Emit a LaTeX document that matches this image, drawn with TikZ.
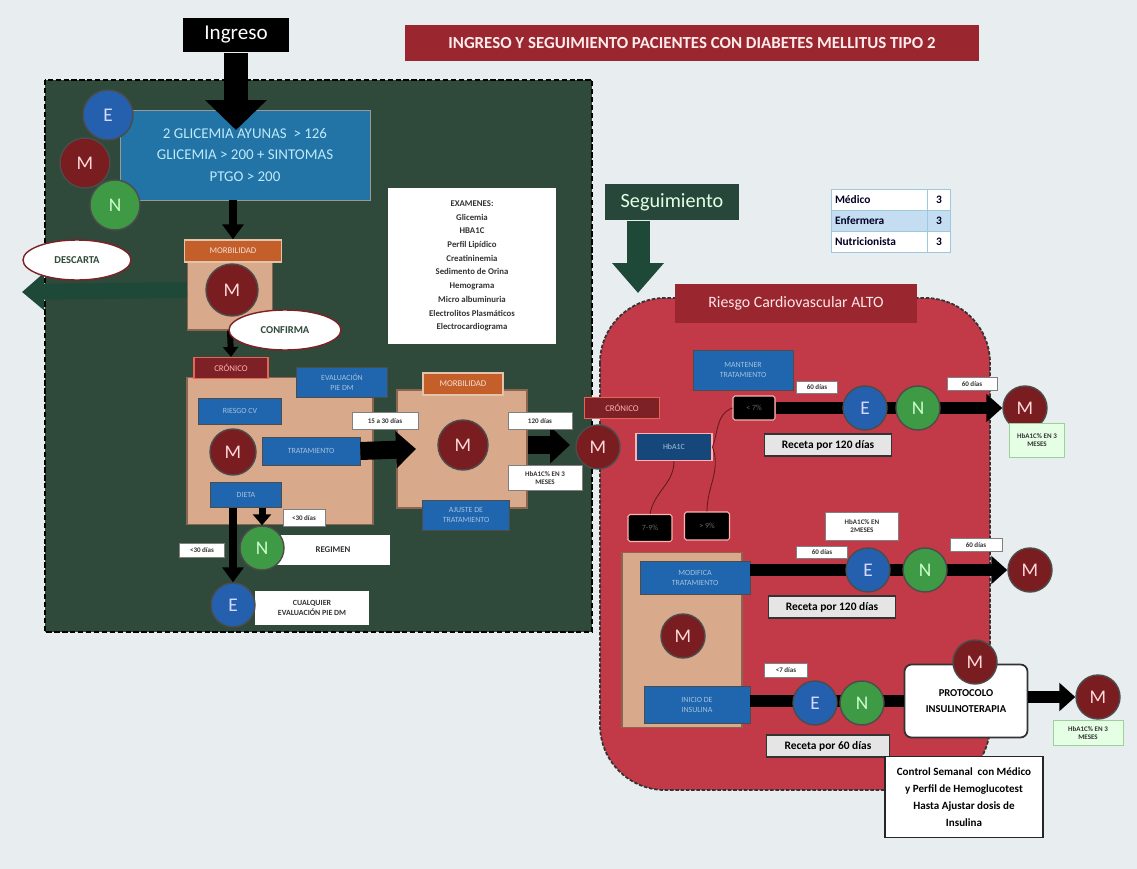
\documentclass[tikz,border=0pt]{standalone}
\usepackage{fontspec}
\setmainfont{Carlito}
\usetikzlibrary{arrows.meta,shapes.geometric}
\definecolor{paper}{HTML}{E8EDF0}
\definecolor{zone}{HTML}{2F4A3A}
\definecolor{titlered}{HTML}{9A2630}
\definecolor{riskred}{HTML}{C23A48}
\definecolor{glicblue}{HTML}{2274A6}
\definecolor{boxblue}{HTML}{1F66AE}
\definecolor{nurse}{HTML}{2460AE}
\definecolor{doctor}{HTML}{7A1D20}
\definecolor{nutri}{HTML}{3F9A45}
\definecolor{tan}{HTML}{D8A98A}
\definecolor{tanedge}{HTML}{8A6650}
\definecolor{morbo}{HTML}{C45F2A}
\definecolor{cronred}{HTML}{7E2126}
\definecolor{segreen}{HTML}{26473A}
\definecolor{darkarrow}{HTML}{1E4838}
\definecolor{legline}{HTML}{9CC8E0}
\definecolor{legblue}{HTML}{C4DDF0}
\definecolor{labgreen}{HTML}{9CD09C}
\tikzset{
  person/.style={circle, draw=black!70, thick, minimum size=0.88cm, inner sep=0pt, text=white!85!red, font=\fontsize{11}{11}\selectfont},
  nursec/.style={person, fill=nurse, text=white!85!blue},
  doctorc/.style={person, fill=doctor},
  nutric/.style={person, fill=nutri, text=white!80!green},
  bluebox/.style={rectangle, fill=boxblue, draw=black!70, text=white!60!boxblue, font=\fontsize{4.5}{5.5}\selectfont, align=center, inner sep=1pt},
  tanbox/.style={rectangle, fill=tan, draw=tanedge, line width=0.6pt},
  morblabel/.style={rectangle, fill=morbo, draw=tan!70!white, line width=0.8pt, text=white!80!morbo, font=\fontsize{5}{5}\selectfont, minimum width=1.8cm, minimum height=0.44cm},
  cronlabel/.style={rectangle, fill=cronred, draw=tan!60!red, line width=0.6pt, text=white!70!red, font=\fontsize{5}{5}\selectfont, minimum width=1.48cm, minimum height=0.42cm},
  tag/.style={rectangle, fill=white, draw=black!50, text=black!80, font=\bfseries\fontsize{4}{5}\selectfont, align=center, inner sep=0.5pt},
  blacktag/.style={rectangle, fill=black, draw=red!30!white, line width=0.6pt, text=black!60, font=\fontsize{4.5}{5}\selectfont, rounded corners=1pt},
  receta/.style={rectangle, fill=black!10, draw=black!80, line width=0.8pt, font=\bfseries\fontsize{6.5}{7}\selectfont, minimum height=0.44cm},
  oval/.style={ellipse, fill=white, draw=cronred, line width=0.8pt, text=zone, font=\bfseries\fontsize{6}{6}\selectfont},
  legcell/.style={rectangle, draw=legline, text width=1.8cm, minimum height=0.42cm, align=left, text=black!85!blue, font=\bfseries\fontsize{6.5}{7}\selectfont, inner sep=2pt},
  legnum/.style={rectangle, draw=legline, minimum width=0.46cm, minimum height=0.42cm, text=black!85!blue, font=\bfseries\fontsize{6.5}{7}\selectfont, inner sep=1pt},
  bararrow/.style={line width=0.24cm, -{Triangle[length=0.32cm,width=0.55cm]}},
  smallarrow/.style={line width=0.16cm, -{Triangle[length=0.3cm,width=0.42cm]}},
  thinlink/.style={draw=cronred!80!black, line width=0.5pt}
}
\begin{document}
\begin{tikzpicture}[x=0.02cm, y=-0.02cm]
\fill[paper] (0,0) rectangle (1137,869);
\useasboundingbox (0,0) rectangle (1137,869);

\draw[fill=zone, draw=black, line width=1.2pt, dash pattern=on 3pt off 1.5pt] (45,80) rectangle (592,632);
\draw[fill=riskred, draw=black!80, line width=1pt, dash pattern=on 2pt off 1pt, rounded corners=1.3cm] (600,298) rectangle (990,790);

\node[fill=black, text=white, minimum width=2.14cm, minimum height=0.7cm, font=\fontsize{12}{12}\selectfont] (ingreso) at (236,35) {Ingreso};
\node[fill=titlered, text=white!92!red, minimum width=11.5cm, minimum height=0.74cm, font=\bfseries\fontsize{9.6}{10}\selectfont] (titulo) at (692,43) {INGRESO Y SEGUIMIENTO PACIENTES CON DIABETES MELLITUS TIPO 2};

\node[fill=glicblue, draw=black!40, minimum width=5cm, minimum height=1.8cm, align=center, text=white!75!cyan, font=\fontsize{8.5}{12.5}\selectfont] (glic) at (245,155) {2 GLICEMIA AYUNAS \ > 126\\GLICEMIA > 200 + SINTOMAS\\PTGO > 200};
\coordinate (ingtip) at (236,130);
\draw[line width=0.5cm, -{Triangle[length=0.6cm,width=1.2cm]}] (ingreso) -- (ingtip);
\node[nursec, minimum size=1cm] (e1) at (108,115) {E};
\node[doctorc, minimum size=1cm] (m1) at (85,163) {M};
\node[nutric, minimum size=1cm] (n1) at (115,205) {N};

\node[tanbox, minimum width=1.7cm, minimum height=1.36cm] (morb) at (230,296) {};
\node[morblabel, minimum width=1.94cm] (morbl) at (233,251) {MORBILIDAD};
\draw[smallarrow] (glic.south -| morbl.north) -- (morbl.north);
\node[doctorc, minimum size=1.04cm] (m2) at (232,290) {M};
\coordinate (descartip) at (22,292);
\draw[draw=darkarrow, line width=0.32cm, -{Triangle[length=0.44cm,width=0.72cm]}] (morb.west |- m2) -- (descartip);
\node[oval, minimum width=2.16cm, minimum height=0.8cm] (descarta) at (77,260) {DESCARTA};

\node[fill=white, minimum width=3.38cm, minimum height=3.14cm, align=center, text=black!80, font=\bfseries\fontsize{5}{7.8}\selectfont] (examenes) at (472,266) {EXAMENES:\\Glicemia\\HBA1C\\Perfil Lipídico\\Creatininemia\\Sedimento de Orina\\Hemograma\\Micro albuminuria\\Electrolitos Plasmáticos\\Electrocardiograma};

\node[tanbox, minimum width=3.72cm, minimum height=2.94cm] (cronico) at (280,451) {};
\node[cronlabel] (cronl) at (231,368) {CRÓNICO};
\draw[line width=0.12cm, -{Triangle[length=0.2cm,width=0.3cm]}] (morb.south) -- (cronl.north);
\node[oval, minimum width=2.24cm, minimum height=0.8cm] (confirma) at (285,330) {CONFIRMA};
\node[bluebox, minimum width=1.82cm, minimum height=0.6cm] (evalpie) at (342,382) {EVALUACIÓN\\PIE DM};
\node[bluebox, minimum width=1.66cm, minimum height=0.52cm] (riesgocv) at (240,411) {RIESGO CV};
\node[doctorc, minimum size=0.92cm] (m3) at (233,452) {M};
\node[bluebox, minimum width=1.96cm, minimum height=0.56cm] (tratam) at (311,451) {TRATAMIENTO};
\node[bluebox, minimum width=1.42cm, minimum height=0.5cm] (dieta) at (246,495) {DIETA};

\node[tanbox, minimum width=2.6cm, minimum height=2.36cm] (morb2) at (462,449) {};
\node[morblabel, minimum width=1.6cm] (morbl2) at (463,384) {MORBILIDAD};
\node[doctorc, minimum size=1cm] (m4) at (463,445) {M};
\node[bluebox, minimum width=1.74cm, minimum height=0.6cm] (ajuste) at (466,515) {AJUSTE DE\\TRATAMIENTO};
\coordinate (tip1) at (416,449);
\draw[line width=0.36cm, -{Triangle[length=0.4cm,width=0.72cm]}] (tratam.east) -- (tip1);
\node[tag, minimum width=1.32cm, minimum height=0.34cm] (d1530) at (385,421) {15 a 30 días};
\coordinate (tip2) at (570,445);
\draw[line width=0.36cm, -{Triangle[length=0.4cm,width=0.72cm]}] (morb2.east |- tip2) -- (tip2);
\node[tag, minimum width=1.28cm, minimum height=0.34cm] (d120) at (540,421) {120 días};
\node[tag, minimum width=1.48cm, minimum height=0.5cm] (hba1) at (545,478) {HbA1C\% EN 3\\MESES};

\node[fill=white, minimum width=2.28cm, minimum height=0.6cm, font=\bfseries\fontsize{5}{5}\selectfont, text=black!80] (regimen) at (333,550) {REGIMEN};
\node[fill=white, minimum width=2.3cm, minimum height=0.68cm, align=center, font=\bfseries\fontsize{4.5}{6}\selectfont, text=black!80] (cualquier) at (312,608) {CUALQUIER\\EVALUACIÓN PIE DM};
\node[nutric] (n2) at (262,548) {N};
\node[nursec] (e2) at (233,605) {E};
\draw[smallarrow] (dieta.south -| e2.north) -- (e2.north);
\draw[line width=0.14cm, -{Triangle[length=0.22cm,width=0.36cm]}] (dieta.south -| n2.north) -- (n2.north);
\node[tag, minimum width=0.84cm, minimum height=0.34cm] (d30a) at (304,518) {<30 días};
\node[tag, minimum width=0.9cm, minimum height=0.28cm] (d30b) at (202,550) {<30 días};

\node[fill=segreen, text=white!90!green, minimum width=2.7cm, minimum height=0.74cm, font=\fontsize{11.5}{12}\selectfont] (seg) at (672,202) {Seguimiento};
\coordinate (segtip) at (638,293);
\draw[draw=darkarrow, line width=0.46cm, -{Triangle[length=0.6cm,width=1.0cm]}] (seg.south -| segtip) -- (segtip);

\node[legcell, fill=white] (medico) at (880,200) {Médico};
\node[legnum, fill=white] (medicon) at (939,200) {3};
\node[legcell, fill=legblue] (enfermera) at (880,221) {Enfermera};
\node[legnum, fill=legblue] (enfermeran) at (939,221) {3};
\node[legcell, fill=white] (nutricionista) at (880,242) {Nutricionista};
\node[legnum, fill=white] (nutricionistan) at (939,242) {3};

\node[fill=titlered, text=white!90!red, minimum width=4.86cm, minimum height=0.78cm, font=\fontsize{9}{9}\selectfont] (riesgo) at (796,303) {Riesgo Cardiovascular ALTO};

\node[cronlabel, minimum width=1.5cm] (cronl2) at (622,408) {CRÓNICO};
\node[bluebox, fill=boxblue!70!black, draw=red!30!white, line width=0.6pt, minimum width=1.52cm, minimum height=0.54cm] (hbactl) at (674,447) {HbA1C};
\node[doctorc] (m5) at (598,447) {M};
\node[blacktag, minimum width=0.84cm, minimum height=0.48cm] (bajo) at (754,408) {< 7\%};
\node[blacktag, minimum width=0.88cm, minimum height=0.54cm] (medio) at (650,528) {7-9\%};
\node[blacktag, minimum width=0.9cm, minimum height=0.56cm] (alto) at (707,526) {> 9\%};
\draw[thinlink] (hbactl.east) to[out=70,in=200] (bajo.west);
\draw[thinlink] (hbactl.east) to[out=-70,in=90] (alto.north);
\draw[thinlink] (hbactl.south) to[out=-90,in=80] (medio.north);

\node[bluebox, minimum width=2cm, minimum height=0.8cm] (mantener) at (743,370) {MANTENER\\TRATAMIENTO};
\node[doctorc] (m6) at (1025,408) {M};
\draw[bararrow] (bajo.east) -- (m6.west);
\node[nursec] (e3) at (865,408) {E};
\node[nutric] (n3) at (918,408) {N};
\node[tag, minimum width=0.82cm, minimum height=0.24cm] (d60a) at (817,387) {60 días};
\node[tag, minimum width=1cm, minimum height=0.26cm] (d60b) at (972,384) {60 días};
\node[tag, fill=white!90!green, draw=labgreen, minimum width=1.1cm, minimum height=0.68cm] (hba2) at (1037,440) {HbA1C\% EN 3\\MESES};
\node[receta, minimum width=2.54cm] (receta1) at (828,445) {Receta por 120 días};

\node[tanbox, minimum width=2.4cm, minimum height=3.5cm] (ajustebox) at (682,640) {};
\node[bluebox, minimum width=2.2cm, minimum height=0.66cm] (modifica) at (695,578) {MODIFICA\\TRATAMIENTO};
\node[doctorc] (m7) at (683,636) {M};
\node[doctorc] (m8) at (1030,570) {M};
\draw[bararrow] (modifica.east |- m8) -- (m8.west);
\node[nursec] (e4) at (868,570) {E};
\node[nutric] (n4) at (925,570) {N};
\node[tag, minimum width=1.02cm, minimum height=0.24cm] (d60c) at (822,552) {60 días};
\node[tag, minimum width=1.46cm, minimum height=0.56cm] (hba3) at (862,526) {HbA1C\% EN\\2MESES};
\node[tag, minimum width=1.04cm, minimum height=0.26cm] (d60d) at (976,545) {60 días};
\node[receta, minimum width=2.54cm] (receta2) at (832,607) {Receta por 120 días};

\node[bluebox, minimum width=2.12cm, minimum height=0.74cm] (insulina) at (697,705) {INICIO DE\\INSULINA};
\node[rectangle, fill=white, draw=black!80, line width=1pt, rounded corners=4pt, minimum width=2.46cm, minimum height=1.46cm, align=center, font=\bfseries\fontsize{6}{9}\selectfont] (protocolo) at (966,701) {PROTOCOLO\\INSULINOTERAPIA};
\draw[line width=0.24cm] (insulina.east |- protocolo) -- (protocolo.west);
\node[nursec] (e5) at (815,703) {E};
\node[nutric] (n5) at (862,703) {N};
\node[doctorc] (m9) at (975,662) {M};
\node[doctorc] (m10) at (1098,697) {M};
\draw[bararrow] (protocolo.east |- m10) -- (m10.west);
\node[tag, minimum width=0.86cm, minimum height=0.28cm] (d7) at (786,670) {<7 días};
\node[tag, fill=white!90!green, draw=labgreen, minimum width=1.4cm, minimum height=0.5cm] (hba4) at (1088,733) {HbA1C\% EN 3\\MESES};
\node[receta, minimum width=2.46cm] (receta3) at (828,746) {Receta por 60 días};
\node[rectangle, fill=white, draw=black!85, line width=1pt, minimum width=3.16cm, minimum height=1.62cm, align=center, font=\bfseries\fontsize{6.3}{9.6}\selectfont] (control) at (964,797) {Control Semanal \ con Médico\\y Perfil de Hemoglucotest\\Hasta Ajustar dosis de\\Insulina};
\end{tikzpicture}
\end{document}
